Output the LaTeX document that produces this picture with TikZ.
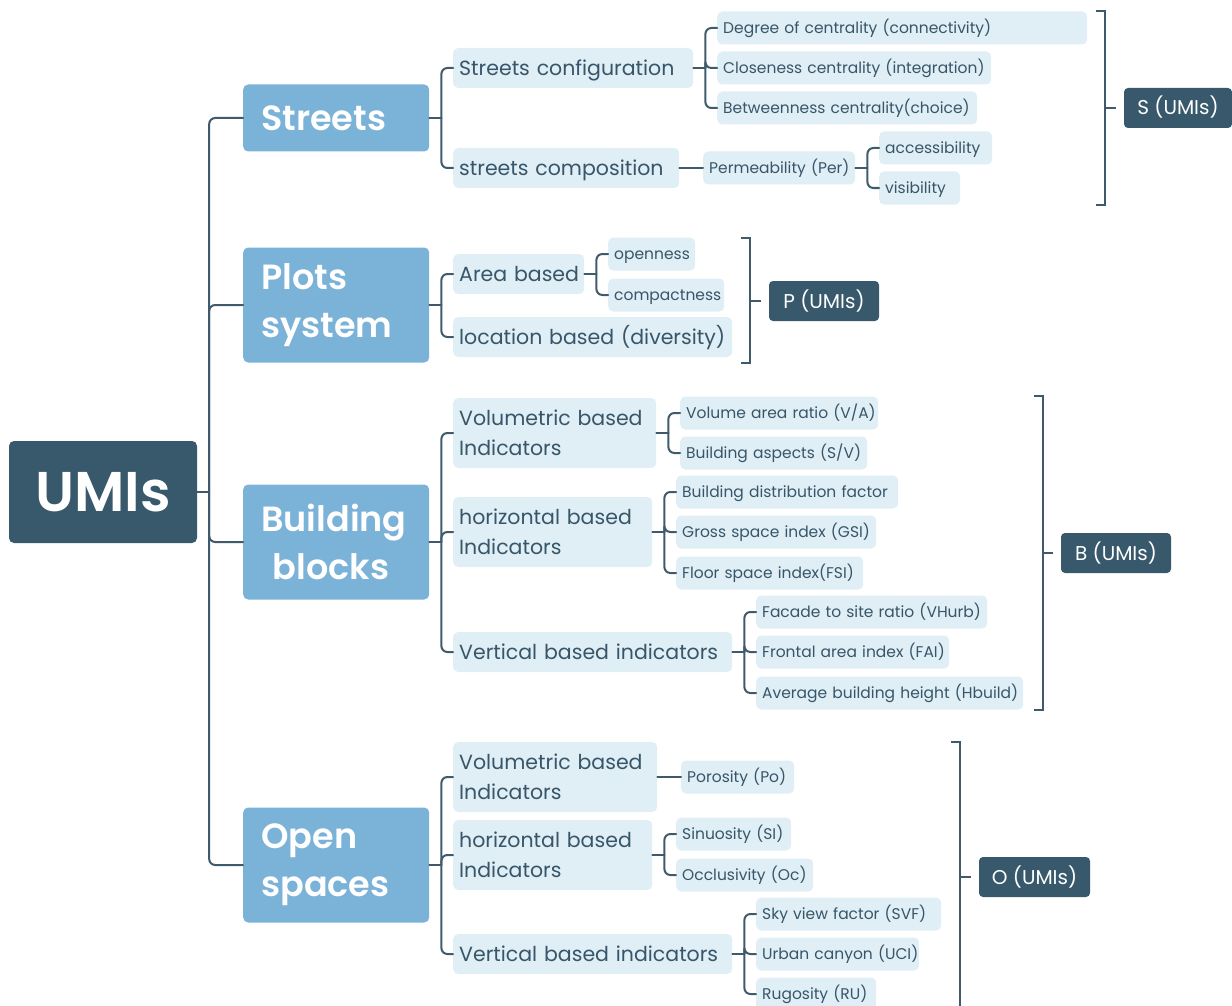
\documentclass[tikz,border=0pt]{standalone}
\usepackage{fontspec}
\setmainfont{Poppins}[BoldFont={Poppins SemiBold}]
\usetikzlibrary{positioning}

\definecolor{umidark}{RGB}{56,88,108}
\definecolor{umiblue}{RGB}{123,178,215}
\definecolor{umilight}{RGB}{224,238,245}
\definecolor{umiline}{RGB}{62,90,107}
\definecolor{umitext}{RGB}{55,86,106}

\begin{document}
\begin{tikzpicture}[
  x=1pt, y=-1pt,
  font=\fontsize{16}{19}\selectfont,
  link/.style    = {draw=umiline, line width=2pt, rounded corners=6pt, line cap=round},
  brk/.style     = {draw=umiline, line width=2pt},
  oneline/.style = {execute at begin node=\hbox\bgroup, execute at end node=\egroup},
  rootbox/.style = {fill=umidark, text=white, rounded corners=5pt, minimum width=188pt, minimum height=102pt, font=\bfseries\fontsize{56}{60}\selectfont},
  topic/.style   = {fill=umiblue, text=white, rounded corners=5pt, anchor=west, text width=150pt, inner xsep=18pt, minimum height=115pt, align=left, font=\bfseries\fontsize{35}{48}\selectfont},
  subbase/.style = {fill=umilight, text=umitext, rounded corners=5pt, anchor=west, text width=#1, inner xsep=6pt, font=\fontsize{20.5}{30}\selectfont},
  sub/.style     = {subbase=#1, oneline, minimum height=40pt, text height=14.5pt, text depth=0pt},
  subtwo/.style  = {subbase=#1, align=left, minimum height=70pt},
  leaf/.style    = {fill=umilight, text=umitext, rounded corners=5pt, anchor=west, text width=#1, oneline, inner xsep=6pt, minimum height=33pt, text height=11.5pt, text depth=0pt, font=\fontsize{15.5}{19}\selectfont},
  tag/.style     = {fill=umidark, text=white, rounded corners=4pt, minimum width=#1, minimum height=40pt, text height=14pt, text depth=0pt, font=\fontsize{20}{24}\selectfont},
]
% parent -> stub -> one elbow per child: #1 parent  #2 list of children
\newcommand{\fanout}[2]{%
  \draw[link] (#1.east) -- ++(12,0) coordinate (#1j);%
  \foreach \kid in {#2}{\draw[link] (#1j) |- (\kid.west);}%
}
% summary bracket: #1 x  #2 top  #3 bottom  #4 mid y  #5 tag node
\newcommand{\umibrace}[5]{%
  \draw[brk] (#1-9,#2) -- (#1,#2) -- (#1,#3) -- (#1-9,#3);%
  \draw[brk, shorten >=8pt] (#1,#4) -- (#5.west);%
}
\useasboundingbox (0,0) rectangle (1232,1006);

% root and main topics
\node[rootbox] (umis) at (103,492) {UMIs};
\node[topic, minimum height=67pt] (streets) at (243,118) {Streets};
\node[topic] (plots)  at (243,305) {Plots\\system};
\node[topic] (blocks) at (243,542) {Building\\~blocks};
\node[topic] (open)   at (243,865) {Open\\spaces};

% streets
\node[sub=228pt] (sconf) at (453,68)  {Streets configuration};
\node[sub=214pt] (scomp) at (453,168) {streets composition};
\node[leaf=358pt] (sdeg) at (717,28)  {Degree of centrality (connectivity)};
\node[leaf=262pt] (sclo) at (717,68)  {Closeness centrality (integration)};
\node[leaf=248pt] (sbet) at (717,108) {Betweenness centrality(choice)};
\node[leaf=140pt] (sper) at (703,168) {Permeability (Per)};
\node[leaf=101pt] (sacc) at (879,148) {accessibility};
\node[leaf=69pt]  (svis) at (879,188) {visibility};
\node[tag=108pt]  (ssum) at (1178,108) {S (UMIs)};

% plots system
\node[sub=119pt] (parea) at (453,274) {Area based};
\node[sub=267pt] (ploc)  at (453,337) {location based (diversity)};
\node[leaf=75pt]  (popen) at (608,254) {openness};
\node[leaf=104pt] (pcomp) at (608,295) {compactness};
\node[tag=110pt]  (psum)  at (824,301) {P (UMIs)};

% building blocks
\node[subtwo=191pt] (bvol) at (453,433) {Volumetric based\\Indicators};
\node[subtwo=187pt] (bhor) at (453,532) {horizontal based\\Indicators};
\node[sub=267pt] (bver) at (453,652) {Vertical based indicators};
\node[leaf=186pt] (bva)   at (680,413) {Volume area ratio (V/A)};
\node[leaf=175pt] (bsv)   at (680,453) {Building aspects (S/V)};
\node[leaf=210pt] (bdist) at (676,492) {Building distribution factor};
\node[leaf=188pt] (bgsi)  at (676,532) {Gross space index (GSI)};
\node[leaf=175pt] (bfsi)  at (676,573) {Floor space index(FSI)};
\node[leaf=219pt] (bfac)  at (756,612) {Facade to site ratio (VHurb)};
\node[leaf=181pt] (bfai)  at (756,652) {Frontal area index (FAI)};
\node[leaf=255pt] (bhb)   at (756,693) {Average building height (Hbuild)};
\node[tag=110pt]  (bsum)  at (1116,553) {B (UMIs)};

% open spaces
\node[subtwo=192pt] (ovol) at (453,777) {Volumetric based\\Indicators};
\node[subtwo=187pt] (ohor) at (453,855) {horizontal based\\Indicators};
\node[sub=267pt] (over) at (453,954) {Vertical based indicators};
\node[leaf=101pt] (opor) at (681,777) {Porosity (Po)};
\node[leaf=103pt] (osin) at (676,834) {Sinuosity (SI)};
\node[leaf=125pt] (oocc) at (676,875) {Occlusivity (Oc)};
\node[leaf=173pt] (osvf) at (756,914) {Sky view factor (SVF)};
\node[leaf=151pt] (ouci) at (756,954) {Urban canyon (UCI)};
\node[leaf=108pt] (orug) at (756,994) {Rugosity (RU)};
\node[tag=111pt]  (osum) at (1034.5,877) {O (UMIs)};

% connectors
\fanout{umis}{streets, plots, blocks, open}
\fanout{streets}{sconf, scomp}
\fanout{sconf}{sdeg, sclo, sbet}
\draw[link] (scomp.east) -- (sper.west);
\fanout{sper}{sacc, svis}
\fanout{plots}{parea, ploc}
\fanout{parea}{popen, pcomp}
\fanout{blocks}{bvol, bhor, bver}
\fanout{bvol}{bva, bsv}
\fanout{bhor}{bdist, bgsi, bfsi}
\fanout{bver}{bfac, bfai, bhb}
\fanout{open}{ovol, ohor, over}
\draw[link] (ovol.east) -- (opor.west);
\fanout{ohor}{osin, oocc}
\fanout{over}{osvf, ouci, orug}

% summary brackets
\umibrace{1105}{11}{205}{108}{ssum}
\umibrace{750}{238}{363}{301}{psum}
\umibrace{1043}{396}{710}{553}{bsum}
\umibrace{960}{742}{1012}{877}{osum}
\end{tikzpicture}
\end{document}
